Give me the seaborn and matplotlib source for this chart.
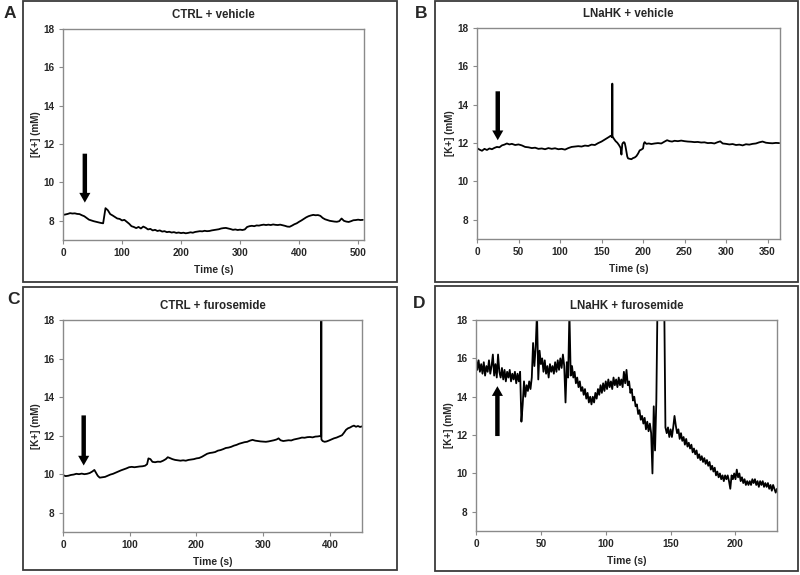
import numpy as np
import pandas as pd
import matplotlib
matplotlib.use("Agg")
import matplotlib.pyplot as plt
from matplotlib.patches import Rectangle
import seaborn as sns

# Panel A: CTRL + vehicle (one value every 4 s)
a_conc = [8.31, 8.33, 8.36, 8.40, 8.38, 8.39, 8.36, 8.35, 8.29, 8.24,
          8.15, 8.06, 8.02, 7.98, 7.95, 7.92, 7.89, 7.87, 8.66, 8.55,
          8.35, 8.28, 8.20, 8.12, 8.10, 8.02, 8.05, 7.95, 7.85, 7.72,
          7.68, 7.62, 7.68, 7.60, 7.70, 7.64, 7.55, 7.58, 7.50, 7.53,
          7.47, 7.50, 7.44, 7.46, 7.41, 7.43, 7.39, 7.41, 7.37, 7.39,
          7.36, 7.38, 7.35, 7.37, 7.40, 7.38, 7.42, 7.44, 7.46, 7.45,
          7.48, 7.46, 7.47, 7.50, 7.52, 7.54, 7.56, 7.60, 7.62, 7.63,
          7.60, 7.57, 7.53, 7.55, 7.52, 7.54, 7.52, 7.55, 7.68, 7.72,
          7.74, 7.72, 7.76, 7.75, 7.78, 7.80, 7.78, 7.80, 7.78, 7.81,
          7.79, 7.78, 7.80, 7.77, 7.74, 7.70, 7.69, 7.75, 7.82, 7.87,
          7.95, 8.02, 8.10, 8.18, 8.24, 8.28, 8.31, 8.29, 8.30, 8.26,
          8.15, 8.08, 8.04, 8.00, 7.98, 7.96, 7.95, 7.98, 8.12, 8.00,
          7.96, 7.94, 7.98, 8.03, 8.04, 8.06, 8.04, 8.05]
a_time = np.arange(len(a_conc)) * 4

# Panel B: LNaHK + vehicle
b_time = [0, 3, 6, 9, 12, 15, 18, 21, 24, 27,
          30, 33, 36, 39, 42, 46, 50, 54, 58, 62,
          66, 70, 74, 78, 82, 86, 90, 94, 98, 102,
          106, 110, 114, 118, 122, 126, 130, 134, 138, 142,
          146, 150, 153, 156, 159, 161, 162.8, 163, 163.2, 165,
          167, 169, 171, 173, 174, 175, 176, 177, 178, 179,
          180, 181, 182, 184, 186, 188, 190, 192, 194, 196,
          198, 200, 201, 202, 204, 207, 210, 214, 218, 222,
          226, 229, 232, 235, 238, 242, 246, 250, 254, 258,
          262, 266, 270, 274, 278, 282, 286, 290, 293, 296,
          300, 304, 308, 312, 316, 320, 324, 328, 332, 336,
          340, 344, 348, 352, 356, 360, 364]
b_conc = [11.74, 11.66, 11.60, 11.70, 11.64, 11.72, 11.68, 11.75, 11.80, 11.78,
          11.88, 11.92, 11.98, 11.93, 11.96, 11.90, 11.93, 11.88, 11.80, 11.78,
          11.74, 11.76, 11.70, 11.72, 11.68, 11.74, 11.70, 11.73, 11.68, 11.70,
          11.66, 11.74, 11.80, 11.82, 11.84, 11.82, 11.87, 11.85, 11.92, 11.90,
          12.00, 12.08, 12.16, 12.24, 12.32, 12.38, 12.30, 15.10, 12.35, 12.22,
          12.10, 12.02, 11.90, 11.75, 11.40, 11.95, 12.02, 12.05, 12.00, 11.80,
          11.55, 11.30, 11.20, 11.18, 11.16, 11.22, 11.25, 11.32, 11.45, 11.62,
          11.66, 11.72, 11.98, 12.05, 11.96, 11.98, 11.95, 11.98, 12.00, 11.98,
          12.08, 12.15, 12.10, 12.08, 12.12, 12.10, 12.13, 12.10, 12.08, 12.07,
          12.05, 12.06, 12.03, 12.04, 12.00, 12.01, 11.98, 12.05, 12.09, 11.98,
          11.96, 11.93, 11.95, 11.90, 11.92, 11.88, 11.94, 11.92, 11.96, 11.98,
          12.04, 12.08, 12.02, 12.00, 11.99, 12.01, 12.00]

# Panel C: CTRL + furosemide
c_time = [0, 4, 8, 12, 16, 20, 24, 28, 32, 36,
          40, 44, 47, 49, 52, 55, 59, 63, 67, 71,
          75, 79, 83, 87, 91, 95, 99, 103, 107, 111,
          115, 119, 123, 126, 128, 131, 134, 138, 142, 146,
          150, 154, 157, 160, 164, 168, 172, 176, 180, 184,
          188, 192, 196, 200, 204, 208, 212, 216, 220, 224,
          228, 232, 236, 240, 244, 248, 252, 256, 260, 264,
          268, 272, 276, 280, 284, 288, 292, 296, 300, 304,
          308, 312, 316, 320, 323, 326, 330, 334, 338, 342,
          346, 350, 354, 358, 362, 366, 370, 374, 378, 382,
          385, 386.8, 387, 387.2, 389, 392, 395, 398, 402, 406,
          410, 414, 418, 421, 424, 427, 430, 433, 436, 439,
          442, 445, 448]
c_conc = [9.95, 9.90, 9.92, 9.96, 9.98, 10.02, 10.00, 10.03, 10.00, 10.02,
          10.06, 10.14, 10.22, 10.10, 9.92, 9.82, 9.84, 9.86, 9.92, 9.98,
          10.02, 10.08, 10.14, 10.20, 10.25, 10.30, 10.36, 10.38, 10.36, 10.38,
          10.40, 10.41, 10.44, 10.52, 10.82, 10.78, 10.64, 10.62, 10.65, 10.64,
          10.70, 10.78, 10.88, 10.84, 10.78, 10.74, 10.72, 10.70, 10.72, 10.70,
          10.74, 10.76, 10.78, 10.82, 10.84, 10.90, 10.98, 11.06, 11.10, 11.12,
          11.15, 11.22, 11.25, 11.30, 11.36, 11.38, 11.42, 11.48, 11.52, 11.58,
          11.62, 11.66, 11.68, 11.74, 11.78, 11.74, 11.72, 11.70, 11.69, 11.68,
          11.70, 11.73, 11.76, 11.80, 11.86, 11.76, 11.72, 11.74, 11.76, 11.75,
          11.80, 11.83, 11.86, 11.90, 11.89, 11.92, 11.93, 11.91, 11.95, 11.96,
          11.98, 11.96, 19.00, 11.80, 11.72, 11.68, 11.70, 11.74, 11.80, 11.86,
          11.90, 11.96, 12.02, 12.15, 12.30, 12.38, 12.42, 12.48, 12.52, 12.46,
          12.50, 12.45, 12.48]

# Panel D: LNaHK + furosemide (one value per second)
d_conc = [16.0, 15.4, 15.9, 15.3, 15.7, 15.2, 15.8, 15.1, 15.6, 15.3,
          15.9, 15.2, 15.6, 16.2, 15.1, 15.7, 15.0, 16.2, 15.3, 15.0,
          15.5, 14.9, 15.4, 14.8, 15.3, 15.0, 15.4, 14.8, 15.2, 14.9,
          15.3, 14.7, 15.2, 14.8, 15.3, 12.7, 13.6, 14.8, 14.0, 14.6,
          14.3, 14.8, 14.4, 15.0, 16.8, 15.6, 16.6, 18.4, 14.9, 16.4,
          15.7, 16.0, 15.3, 15.9, 15.2, 15.6, 15.0, 15.7, 15.3, 15.6,
          15.2, 15.8, 15.3, 15.9, 15.4, 16.0, 15.5, 16.2, 15.6, 13.7,
          15.8, 15.0, 18.4, 15.1, 15.6, 15.0, 15.3, 14.7, 15.0, 14.5,
          14.8, 14.3, 14.5, 14.1, 14.4, 13.9, 14.2, 13.7, 14.0, 13.6,
          14.0, 13.7, 14.2, 13.9, 14.4, 14.1, 14.6, 14.2, 14.7, 14.3,
          14.8, 14.4, 14.9, 14.5, 14.8, 14.4, 15.0, 14.6, 14.9, 14.5,
          15.0, 14.6, 14.9, 14.5, 15.3, 14.7, 15.4, 14.6, 14.8, 14.2,
          14.4, 13.8, 14.0, 13.5, 13.6, 13.1, 13.3, 12.8, 13.0, 12.6,
          12.9, 12.3, 12.7, 12.2, 12.6, 12.1, 10.0, 13.5, 11.2, 13.8,
          19.5, 19.5, 19.5, 19.5, 19.5, 19.5, 12.4, 12.1, 12.4, 11.9,
          12.3, 11.9, 12.4, 13.0, 12.5, 12.1, 12.3, 11.8, 12.1, 11.7,
          11.9, 11.5, 11.8, 11.4, 11.6, 11.3, 11.5, 11.1, 11.3, 11.0,
          11.2, 10.8, 11.0, 10.7, 10.9, 10.6, 10.8, 10.5, 10.7, 10.4,
          10.6, 10.2, 10.4, 10.1, 10.3, 9.9, 10.1, 9.8, 10.0, 9.7,
          9.9, 9.6, 9.9, 9.7, 9.9, 9.6, 9.2, 9.9, 9.7, 10.0,
          9.7, 10.2, 9.8, 10.0, 9.6, 9.8, 9.5, 9.7, 9.4, 9.6,
          9.4, 9.6, 9.4, 9.7, 9.5, 9.7, 9.4, 9.6, 9.3, 9.6,
          9.4, 9.6, 9.3, 9.5, 9.3, 9.5, 9.2, 9.4, 9.1, 9.4,
          9.2, 9.0, 9.2]
d_time = np.arange(len(d_conc))

titles = ["CTRL + vehicle", "LNaHK + vehicle", "CTRL + furosemide", "LNaHK + furosemide"]
letters = ["A", "B", "C", "D"]
x_max = [510, 365, 448, 232]
x_step = [100, 50, 100, 50]
# arrow (time, tail, tip) in data units
arrows = [(37, 11.5, 8.95), (25, 14.7, 12.15), (31, 13.05, 10.45), (16.5, 11.95, 14.55)]

sns.set_theme(style="white")
plt.rcParams["font.family"] = ["Liberation Sans", "DejaVu Sans"]
plt.rcParams["font.weight"] = "bold"
plt.rcParams["axes.labelweight"] = "bold"
plt.rcParams["axes.titleweight"] = "bold"

fig = plt.figure(figsize=(8, 5.75), dpi=100)
W, H = 800, 575

# axes boxes in pixels: left, top, right, bottom
ax_px = [(63, 29, 364, 240), (477, 28, 780, 239), (63, 320, 362, 532), (476, 320, 777, 531)]
frame_px = [(23, 1, 397, 282), (435, 1, 798, 282), (23, 287, 397, 570), (435, 286, 798, 571)]
letter_px = [(10, 14), (421, 14), (13, 300), (419, 303)]

series = [(a_time, a_conc, 1.3), (b_time, b_conc, 1.3), (c_time, c_conc, 1.3), (d_time, d_conc, 1.3)]

for i in range(4):
    l, t, r, b = ax_px[i]
    ax = fig.add_axes([l / W, 1 - b / H, (r - l) / W, (b - t) / H])
    x, y, lw = series[i]
    df = pd.DataFrame({"Time": x, "K": y})
    sns.lineplot(data=df, x="Time", y="K", ax=ax, color="black", lw=lw,
                 estimator=None, sort=False)
    ax.set_xlim(0, x_max[i])
    ax.set_ylim(7, 18)
    ax.set_yticks([8, 10, 12, 14, 16, 18])
    ax.set_xticks(np.arange(0, x_max[i] + 1, x_step[i]))
    ax.set_xlabel("Time (s)", fontsize=7.4, labelpad=5)
    ax.set_ylabel("[K+] (mM)", fontsize=7.1, labelpad=2)
    ax.set_title(titles[i], fontsize=8.3, pad=8)
    for s in ax.spines.values():
        s.set_color("#8a8a8a")
        s.set_linewidth(1.0)
    ax.tick_params(axis="both", direction="out", length=3, width=0.8, color="#8a8a8a",
                   labelsize=7.2, pad=3, bottom=True, left=True)

    xa, y0, y1 = arrows[i]
    ax.annotate("", xy=(xa, y1), xytext=(xa, y0),
                arrowprops=dict(arrowstyle="simple,head_length=0.7,head_width=0.8,tail_width=0.32",
                                mutation_scale=10, fc="black", ec="none",
                                shrinkA=0, shrinkB=0))

    fl, ft, fr, fb = frame_px[i]
    fig.patches.append(Rectangle((fl / W, 1 - fb / H), (fr - fl) / W, (fb - ft) / H,
                                 transform=fig.transFigure, fill=False,
                                 ec="#3a3a3a", lw=1.3))
    lx, ly = letter_px[i]
    fig.text(lx / W, 1 - ly / H, letters[i], fontsize=12.5, fontweight="bold",
             ha="center", va="center")

fig.savefig("out.png", dpi=100)
